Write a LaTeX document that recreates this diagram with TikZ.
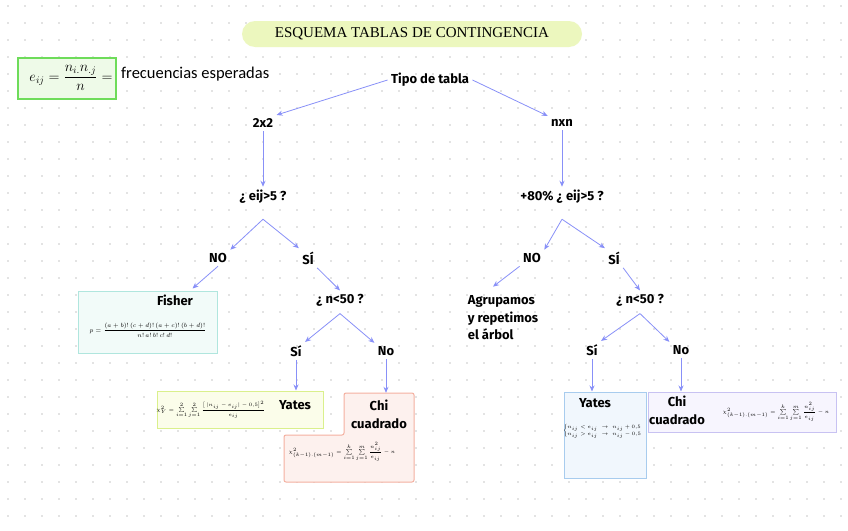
\documentclass[tikz,border=0pt]{standalone}
\usepackage{amsmath}
\usepackage{fontspec}
\usetikzlibrary{arrows.meta,positioning}
\newfontfamily\hand{Fira Sans}
\newfontfamily\calib{Carlito}
\newfontfamily\titlefont{Liberation Serif}
\definecolor{arrowblue}{RGB}{136,144,248}
\definecolor{dotgray}{RGB}{200,200,200}
\definecolor{titlegreen}{RGB}{236,247,190}
\definecolor{boxgreen}{RGB}{110,220,90}
\definecolor{fillgreen}{RGB}{238,250,232}
\definecolor{teal}{RGB}{176,230,222}
\definecolor{fillteal}{RGB}{242,251,249}
\definecolor{yellowg}{RGB}{218,240,140}
\definecolor{fillyellow}{RGB}{251,253,234}
\definecolor{salmon}{RGB}{244,176,160}
\definecolor{fillsalmon}{RGB}{253,241,238}
\definecolor{lightblue}{RGB}{168,204,238}
\definecolor{fillblue}{RGB}{241,247,253}
\definecolor{lavender}{RGB}{200,194,242}
\definecolor{filllav}{RGB}{247,245,254}
\tikzset{
  lbl/.style={font=\hand\bfseries\fontsize{13}{15}\selectfont},
  arr/.style={draw=arrowblue, line width=0.8pt, -{Stealth[length=6pt,width=5pt]}},
  small/.style={font=\fontsize{5.5}{6.5}\selectfont, inner sep=0pt}
}
\begin{document}
\begin{tikzpicture}[x=1pt,y=-1pt]
  \useasboundingbox (0,0) rectangle (848,530);
  \fill[white] (0,0) rectangle (848,530);

  % Dot grid
  \foreach \i in {0,...,49}
    \foreach \j in {0,...,30}
      \fill[dotgray] (8+\i*17,6+\j*17) circle (0.8);

  % Title
  \node[fill=titlegreen, rounded corners=13pt, minimum width=340pt, minimum height=26pt,
        font=\titlefont\fontsize{15}{17}\selectfont] (title) at (412,34) {ESQUEMA TABLAS DE CONTINGENCIA};

  % Expected frequencies
  \node[draw=boxgreen, fill=fillgreen, line width=1.2pt, minimum width=98pt, minimum height=41pt] (ebox) at (67,78.5) {};
  \node[font=\fontsize{14}{16}\selectfont, inner sep=0pt] (eform) at (71,78) {$e_{ij}=\dfrac{n_{i.}n_{.j}}{n}=$};
  \node[font=\calib\fontsize{16.5}{18}\selectfont, anchor=west, inner sep=0pt] (efrec) at (121,74) {frecuencias esperadas};

  % Tree labels
  \node[lbl] (tipo) at (430,80) {Tipo de tabla};
  \node[lbl] (dos) at (263,123) {2x2};
  \node[lbl] (nxn) at (562,123) {nxn};
  \node[lbl] (q1) at (263,197) {¿ eij>5 ?};
  \node[lbl] (q2) at (562,197) {+80\% ¿ eij>5 ?};
  \node[lbl] (no1) at (218,258) {NO};
  \node[lbl] (si1) at (308,258) {SÍ};
  \node[lbl] (no2) at (532,258) {NO};
  \node[lbl] (si2) at (614,258) {SÍ};
  \node[lbl] (n1) at (340,300) {¿ n<50 ?};
  \node[lbl] (n2) at (640,300) {¿ n<50 ?};
  \node[lbl] (sia) at (296,351) {Sí};
  \node[lbl] (noa) at (386,351) {No};
  \node[lbl] (sib) at (592,350) {Sí};
  \node[lbl] (nob) at (681,350) {No};
  \node[lbl, align=left, inner sep=0pt, font=\hand\bfseries\fontsize{13}{17.5}\selectfont] (agrupa) at (503,318) {Agrupamos\\y repetimos\\el árbol};

  % Fisher
  \node[draw=teal, fill=fillteal, line width=1pt, minimum width=139pt, minimum height=62pt] (fisher) at (147.5,322) {};
  \node[lbl] (fishtxt) at (175,300) {Fisher};
  \node[small, font=\fontsize{6}{7}\selectfont] (fishform) at (148,330) {$p=\dfrac{(a+b)!\,(c+d)!\,(a+c)!\,(b+d)!}{n!\,a!\,b!\,c!\,d!}$};

  % Yates 2x2
  \node[draw=yellowg, fill=fillyellow, line width=1pt, minimum width=166pt, minimum height=37pt] (yates1) at (240,409.5) {};
  \node[small, font=\fontsize{5}{6}\selectfont] (yform1) at (211,410) {$\chi^2_Y=\sum\limits_{i=1}^{2}\sum\limits_{j=1}^{2}\dfrac{\bigl[\,|n_{ij}-e_{ij}|-0{,}5\bigr]^2}{e_{ij}}$};
  \node[lbl] (ytxt1) at (295,405) {Yates};

  % Chi cuadrado 2x2
  \fill[fillsalmon, draw=salmon, line width=1pt, rounded corners=2pt]
    (344,393) -- (414,393) -- (414,482) -- (284,482) -- (284,435) -- (344,435) -- cycle;
  \node[lbl, align=center, minimum width=68pt, minimum height=42pt, inner sep=1pt,
        font=\hand\bfseries\fontsize{13}{18}\selectfont] (chi1) at (379,414) {Chi\\cuadrado};
  \node[small] (cform1) at (342,452) {$\chi^2_{(k-1).(m-1)}=\sum\limits_{i=1}^{k}\sum\limits_{j=1}^{m}\dfrac{n_{ij}^2}{e_{ij}}-n$};

  % Yates nxn
  \node[draw=lightblue, fill=fillblue, line width=1pt, minimum width=82pt, minimum height=86pt] (yates2) at (605,435) {};
  \node[lbl] (ytxt2) at (595,403) {Yates};
  \node[small, font=\fontsize{4.3}{5.3}\selectfont] (yform2) at (605,431) {$\begin{cases} n_{ij}<e_{ij} \;\to\; n_{ij}+0{,}5\\ n_{ij}>e_{ij} \;\to\; n_{ij}-0{,}5\end{cases}$};

  % Chi cuadrado nxn
  \node[draw=lavender, fill=filllav, line width=1pt, minimum width=188pt, minimum height=40pt] (chi2) at (742,412) {};
  \node[lbl, align=center, inner sep=0pt, font=\hand\bfseries\fontsize{13}{18}\selectfont] (chitxt2) at (677,410) {Chi\\cuadrado};
  \node[small] (cform2) at (776,412) {$\chi^2_{(k-1).(m-1)}=\sum\limits_{i=1}^{k}\sum\limits_{j=1}^{m}\dfrac{n_{ij}^2}{e_{ij}}-n$};

  % Helper points
  \coordinate (q1b) at ([yshift=-12pt]q1.south);
  \coordinate (q2b) at ([yshift=-12pt]q2.south);
  \coordinate (n1b) at ([yshift=-4pt]n1.south);
  \coordinate (n2b) at ([yshift=-4pt]n2.south);
  \coordinate (fishtop) at ([xshift=-25pt,yshift=2pt]fisher.north east);
  \coordinate (agtop) at ([xshift=-10pt,yshift=9pt]agrupa.north);

  % Connectors
  \draw[arr] (tipo.west) -- (dos.north east);
  \draw[arr] (tipo.east) -- (nxn.north west);
  \draw[arr] (dos.south) -- (dos.south |- q1.north);
  \draw[arr] (nxn.south) -- (nxn.south |- q2.north);
  \draw[arr] (q1b) -- (no1.north east);
  \draw[arr] (q1b) -- (si1.north west);
  \draw[arr] (q2b) -- (no2.north east);
  \draw[arr] (q2b) -- (si2.north west);
  \draw[arr] (no1.south) -- (fishtop);
  \draw[arr] (si1.south east) -- (n1.north);
  \draw[arr] (no2.south west) -- (agtop);
  \draw[arr] (si2.south east) -- (n2.north);
  \draw[arr] (n1b) -- (sia.north east);
  \draw[arr] (n1b) -- (noa.north west);
  \draw[arr] (n2b) -- (sib.north east);
  \draw[arr] (n2b) -- (nob.north west);
  \draw[arr] (sia.south) -- (sia.south |- yates1.north);
  \draw[arr] (noa.south) -- (noa.south |- chi1.north);
  \draw[arr] (sib.south) -- (sib.south |- yates2.north);
  \draw[arr] (nob.south) -- (nob.south |- chi2.north);
\end{tikzpicture}
\end{document}
